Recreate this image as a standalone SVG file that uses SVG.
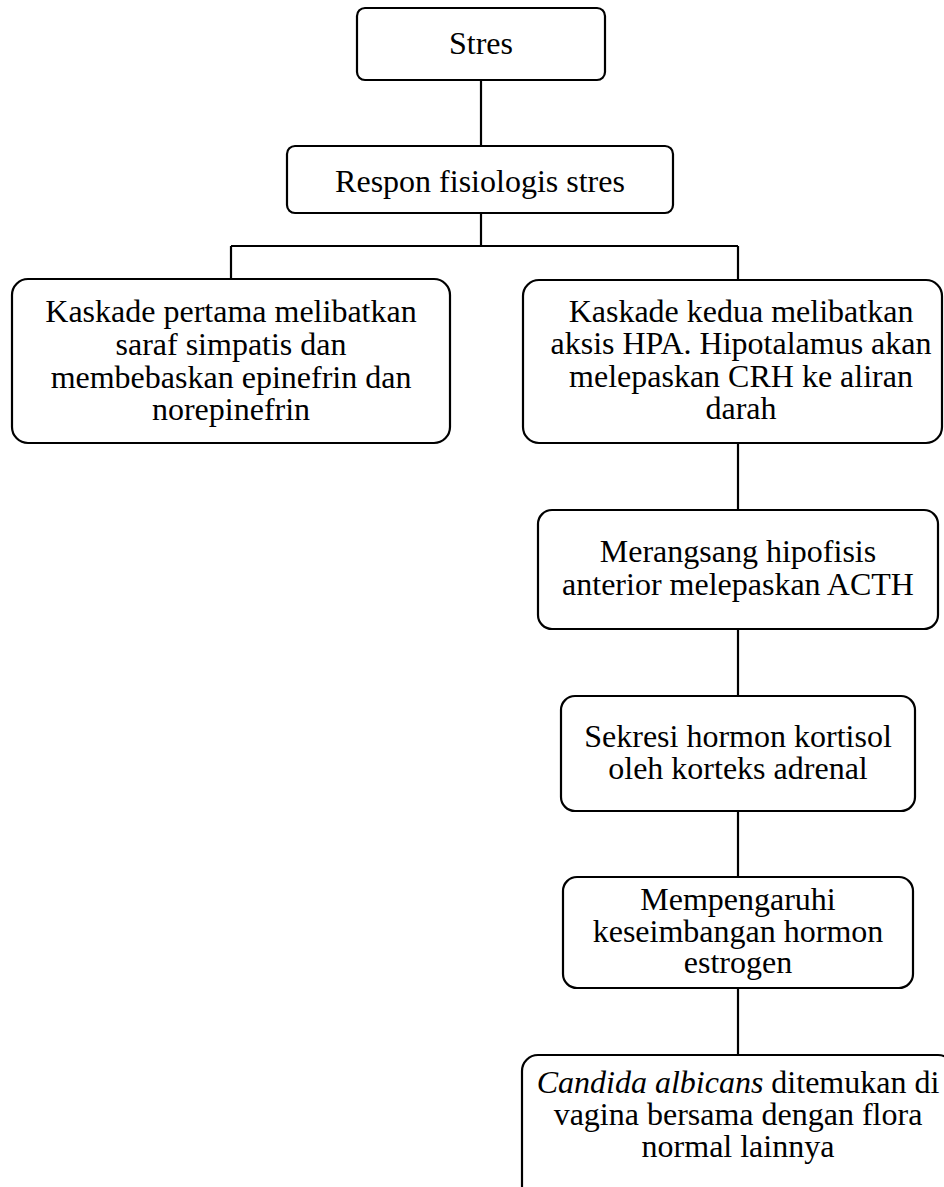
<svg xmlns="http://www.w3.org/2000/svg" width="944" height="1187" viewBox="0 0 944 1187">
<style>
.box{fill:#fff;stroke:#000;stroke-width:2.2}
.ln{fill:none;stroke:#000;stroke-width:2.2}
text{font-family:"Liberation Serif","Times New Roman",serif;font-size:32px;fill:#000;text-anchor:middle}
</style>
<rect width="944" height="1187" fill="#fff"/>
<g id="connectors">
<path class="ln" d="M481 80V146"/>
<path class="ln" d="M481 213V246M231 246H738M231 246V279M738 246V280"/>
<path class="ln" d="M738 443V510"/>
<path class="ln" d="M738 629V696"/>
<path class="ln" d="M738 811V877"/>
<path class="ln" d="M738 988V1055"/>
</g>
<g id="n1"><rect class="box" x="357" y="8" width="248" height="72" rx="8"/><text x="481" y="54">Stres</text></g>
<g id="n2"><rect class="box" x="287" y="146" width="386" height="67" rx="8"/><text x="480" y="192">Respon fisiologis stres</text></g>
<g id="n3"><rect class="box" x="12" y="279" width="438" height="164" rx="16"/>
<text x="231"><tspan x="231" y="322">Kaskade pertama melibatkan</tspan><tspan x="231" y="355">saraf simpatis dan</tspan><tspan x="231" y="388">membebaskan epinefrin dan</tspan><tspan x="231" y="420">norepinefrin</tspan></text></g>
<g id="n4"><rect class="box" x="523" y="280" width="419" height="163" rx="16"/>
<text x="741"><tspan x="741" y="322">Kaskade kedua melibatkan</tspan><tspan x="741" y="354">aksis HPA. Hipotalamus akan</tspan><tspan x="741" y="387">melepaskan CRH ke aliran</tspan><tspan x="741" y="419">darah</tspan></text></g>
<g id="n5"><rect class="box" x="538" y="510" width="400" height="119" rx="14"/>
<text x="738"><tspan x="738" y="562">Merangsang hipofisis</tspan><tspan x="738" y="595">anterior melepaskan ACTH</tspan></text></g>
<g id="n6"><rect class="box" x="561" y="696" width="354" height="115" rx="14"/>
<text x="738"><tspan x="738" y="747">Sekresi hormon kortisol</tspan><tspan x="738" y="779">oleh korteks adrenal</tspan></text></g>
<g id="n7"><rect class="box" x="563" y="877" width="350" height="111" rx="14"/>
<text x="738"><tspan x="738" y="910">Mempengaruhi</tspan><tspan x="738" y="942">keseimbangan hormon</tspan><tspan x="738" y="973">estrogen</tspan></text></g>
<g id="n8"><rect class="box" x="522" y="1055" width="432" height="150" rx="16"/>
<text x="738"><tspan x="738" y="1093"><tspan font-style="italic">Candida albicans</tspan> ditemukan di</tspan><tspan x="738" y="1125">vagina bersama dengan flora</tspan><tspan x="738" y="1157">normal lainnya</tspan></text></g>
</svg>
